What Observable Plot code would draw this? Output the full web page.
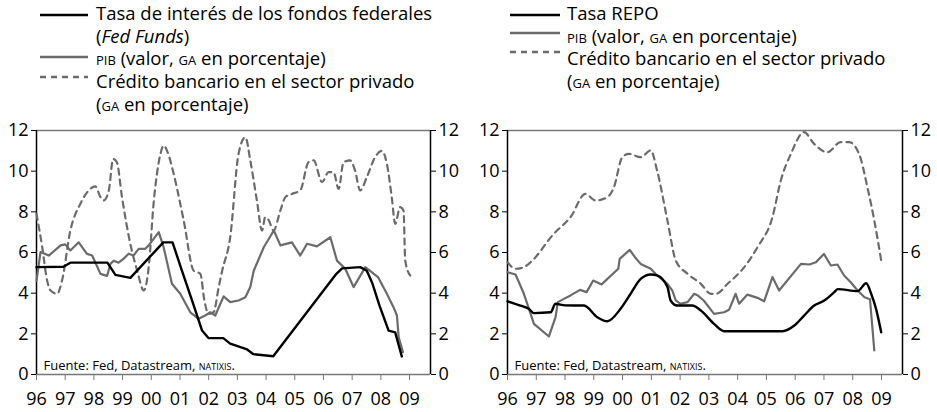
<!DOCTYPE html>
<html>
<head>
<meta charset="utf-8">
<script src="https://cdn.jsdelivr.net/npm/d3@7"></script>
<script src="https://cdn.jsdelivr.net/npm/@observablehq/plot@0.6"></script>
<style>
  body { margin: 0; background: #fff; }
  #root { position: relative; width: 937px; height: 412px; font-family: "Open Sans", sans-serif; overflow: hidden; }
  #legend { position: absolute; left: 0; top: 0; }
  #left { position: absolute; left: 0; top: 117px; }
  #right { position: absolute; left: 468px; top: 117px; }
</style>
</head>
<body>
<div id="root">
  <svg id="legend" width="937" height="117"></svg>
  <div id="left"></div>
  <div id="right"></div>
</div>
<script>
// ---------- data (decimal years, percent) ----------
const xTicks = [1996, 1997, 1998, 1999, 2000, 2001, 2002, 2003, 2004, 2005, 2006, 2007, 2008, 2009];
const yTicks = [0, 2, 4, 6, 8, 10, 12];

// Left panel: United States
const ffX = [1996.0, 1996.94, 1997.18, 1998.47, 1998.75, 1999.27, 2000.42, 2000.74, 2001.07, 2001.42, 2001.77, 2001.99, 2002.51, 2002.75, 2003.34, 2003.56, 2004.25, 2006.45, 2006.65, 2007.28, 2007.51, 2007.7, 2007.95, 2008.27, 2008.5, 2008.73];
const ffY = [5.28, 5.3, 5.5, 5.5, 4.9, 4.75, 6.5, 6.5, 5.1, 3.64, 2.16, 1.79, 1.79, 1.52, 1.23, 1.0, 0.9, 4.95, 5.22, 5.28, 5.1, 4.5, 3.4, 2.16, 2.07, 0.89];

const pibLX = [1996.0, 1996.14, 1996.43, 1996.84, 1997.0, 1997.18, 1997.47, 1997.76, 1997.94, 1998.23, 1998.46, 1998.58, 1998.7, 1998.86, 1999.04, 1999.21, 1999.38, 1999.56, 1999.79, 1999.91, 2000.26, 2000.43, 2000.72, 2001.01, 2001.36, 2001.65, 2001.88, 2002.06, 2002.23, 2002.52, 2002.75, 2003.04, 2003.28, 2003.45, 2003.57, 2003.92, 2004.27, 2004.5, 2004.9, 2005.19, 2005.43, 2005.77, 2006.24, 2006.47, 2006.76, 2007.05, 2007.46, 2007.9, 2008.21, 2008.44, 2008.56, 2008.62, 2008.77];
const pibLY = [4.62, 6.02, 5.85, 6.35, 6.4, 6.1, 6.5, 5.93, 5.85, 4.95, 4.85, 5.45, 5.6, 5.5, 5.7, 5.94, 5.85, 6.18, 6.18, 6.35, 7.0, 6.26, 4.46, 3.97, 3.06, 2.74, 2.9, 3.06, 2.9, 3.84, 3.56, 3.64, 3.8, 4.3, 5.1, 6.26, 7.08, 6.35, 6.5, 5.85, 6.43, 6.3, 6.75, 5.6, 5.2, 4.3, 5.28, 4.79, 3.97, 3.31, 2.9, 1.84, 1.1];

const crLX = [1996.0, 1996.2, 1996.37, 1996.49, 1996.72, 1996.89, 1997.18, 1997.53, 1997.82, 1998.05, 1998.23, 1998.34, 1998.52, 1998.67, 1998.8, 1998.98, 1999.27, 1999.51, 1999.74, 1999.91, 2000.08, 2000.32, 2000.43, 2000.55, 2000.78, 2001.13, 2001.48, 2001.71, 2001.85, 2002.0, 2002.17, 2002.35, 2002.47, 2002.75, 2003.04, 2003.28, 2003.45, 2003.68, 2003.86, 2003.97, 2004.1, 2004.26, 2004.5, 2004.67, 2004.9, 2005.19, 2005.48, 2005.66, 2005.95, 2006.18, 2006.35, 2006.53, 2006.7, 2006.93, 2007.1, 2007.28, 2007.51, 2007.8, 2008.03, 2008.21, 2008.38, 2008.5, 2008.67, 2008.79, 2008.85, 2009.02];
const crLY = [7.9, 6.26, 4.62, 4.13, 3.97, 4.62, 7.08, 8.4, 9.05, 9.25, 8.72, 8.56, 9.05, 10.6, 10.44, 8.72, 6.42, 5.1, 4.13, 5.28, 8.4, 10.85, 11.26, 11.0, 9.87, 7.57, 5.1, 4.95, 3.64, 2.98, 3.06, 4.3, 5.1, 6.75, 10.85, 11.67, 10.53, 8.56, 7.08, 7.74, 7.57, 7.08, 8.07, 8.72, 8.88, 9.05, 10.44, 10.53, 9.46, 9.95, 9.95, 9.13, 10.44, 10.53, 10.03, 9.05, 9.7, 10.69, 11.0, 10.36, 8.72, 7.41, 8.23, 8.07, 5.6, 4.87];

// Right panel: euro zone
const rpX = [1996.0, 1996.45, 1996.74, 1996.92, 1997.5, 1997.67, 1998.0, 1998.66, 1999.12, 1999.47, 1999.93, 2000.28, 2000.63, 2000.98, 2001.2, 2001.56, 2001.67, 2001.9, 2002.42, 2002.72, 2003.18, 2003.53, 2005.56, 2005.97, 2006.31, 2006.66, 2007.01, 2007.36, 2007.48, 2008.17, 2008.47, 2008.64, 2008.81, 2008.99];
const rpY = [3.6, 3.39, 3.23, 3.02, 3.06, 3.48, 3.4, 3.39, 2.82, 2.62, 3.23, 3.97, 4.7, 4.92, 4.87, 4.3, 3.64, 3.39, 3.39, 3.15, 2.49, 2.13, 2.13, 2.41, 2.9, 3.39, 3.64, 4.05, 4.2, 4.1, 4.49, 3.97, 3.23, 2.08];

const pibRX = [1996.0, 1996.28, 1996.57, 1996.92, 1997.44, 1997.67, 1997.75, 1997.96, 1998.19, 1998.52, 1998.75, 1998.98, 1999.27, 1999.85, 1999.9, 2000.25, 2000.43, 2000.63, 2000.98, 2001.2, 2001.56, 2001.73, 2001.85, 2002.0, 2002.26, 2002.49, 2002.6, 2002.82, 2003.18, 2003.53, 2003.7, 2003.93, 2004.05, 2004.34, 2004.69, 2004.92, 2005.21, 2005.44, 2006.2, 2006.49, 2006.72, 2007.0, 2007.24, 2007.47, 2007.7, 2007.93, 2008.17, 2008.41, 2008.6, 2008.75];
const pibRY = [5.03, 4.92, 3.97, 2.49, 1.87, 2.82, 3.56, 3.72, 3.89, 4.16, 4.05, 4.62, 4.43, 5.2, 5.69, 6.13, 5.77, 5.44, 5.2, 4.87, 4.46, 4.13, 3.64, 3.48, 3.56, 3.97, 3.9, 3.64, 2.98, 3.06, 3.18, 3.97, 3.48, 3.93, 3.77, 3.6, 4.79, 4.13, 5.44, 5.41, 5.52, 5.93, 5.36, 5.41, 4.87, 4.54, 4.13, 3.8, 3.7, 1.18];

const crRX = [1996.0, 1996.28, 1996.57, 1996.8, 1997.61, 1998.19, 1998.71, 1999.06, 1999.47, 1999.7, 1999.99, 2000.22, 2000.63, 2000.98, 2001.2, 2001.56, 2001.85, 2002.26, 2002.72, 2003.07, 2003.25, 2003.65, 2004.23, 2004.69, 2005.21, 2005.5, 2005.85, 2006.31, 2006.66, 2007.12, 2007.58, 2007.87, 2008.22, 2008.51, 2008.75, 2008.99];
const crRY = [5.52, 5.2, 5.28, 5.52, 6.92, 7.74, 8.88, 8.56, 8.72, 9.21, 10.69, 10.85, 10.69, 11.02, 10.03, 7.57, 5.6, 4.95, 4.46, 3.97, 3.97, 4.46, 5.28, 6.26, 7.74, 9.54, 10.85, 11.92, 11.34, 10.93, 11.43, 11.43, 10.85, 9.21, 7.57, 5.6];

const sourceText = "Fuente: Fed, Datastream, ";
const sourceSC = "natixis";

// ---------- helpers ----------
const zip = (xs, ys) => xs.map((x, i) => ({x, y: ys[i]}));
const GRAY = "#6b6b6b";
const XMAX = 2009.73;
const FONT = "'Open Sans', sans-serif";

function panel(width, mL, mR, rate, pib, credit, rateCurve) {
  const svg = Plot.plot({
    width, height: 295,
    marginLeft: mL, marginRight: mR, marginTop: 13, marginBottom: 38,
    style: {fontFamily: FONT, fontSize: "18px", color: "#000", background: "transparent", overflow: "visible"},
    x: {type: "linear", domain: [1996, XMAX]},
    y: {domain: [0, 12]},
    marks: [
      Plot.ruleY([12], {stroke: "#777", strokeWidth: 1.5}),
      Plot.ruleY([0], {stroke: "#777", strokeWidth: 1.5}),
      Plot.ruleX([1996, XMAX], {stroke: "#000", strokeWidth: 1.5}),
      Plot.axisY({anchor: "left", ticks: yTicks, tickSize: 5, tickPadding: 3, fontSize: 18, label: null, stroke: "#000"}),
      Plot.axisY({anchor: "right", ticks: yTicks, tickSize: 5, tickPadding: 3, fontSize: 18, label: null, stroke: "#000"}),
      Plot.axisX({ticks: xTicks, tickSize: 6, tickPadding: 12, fontSize: 18, label: null, stroke: "#777",
                  tickFormat: d => String(d % 100).padStart(2, "0")}),
      Plot.line(zip(credit[0], credit[1]), {x: "x", y: "y", stroke: GRAY, strokeWidth: 2.2, strokeDasharray: "6,5", curve: "monotone-x"}),
      Plot.line(zip(pib[0], pib[1]), {x: "x", y: "y", stroke: GRAY, strokeWidth: 2.2}),
      Plot.line(zip(rate[0], rate[1]), {x: "x", y: "y", stroke: "#000", strokeWidth: 2.4, curve: rateCurve}),
      Plot.text([sourceText], {frameAnchor: "bottom-left", textAnchor: "start", lineAnchor: "bottom", dx: 7, dy: -5, fontSize: 13})
    ]
  });
  // small caps tail of the source note
  svg.querySelectorAll("text").forEach(t => {
    if (t.textContent.startsWith("Fuente")) {
      const ns = "http://www.w3.org/2000/svg";
      const sp = document.createElementNS(ns, "tspan");
      sp.setAttribute("style", "font-variant: small-caps");
      sp.textContent = sourceSC;
      t.appendChild(sp);
      const dot = document.createElementNS(ns, "tspan");
      dot.textContent = ".";
      t.appendChild(dot);
    }
  });
  return svg;
}

document.getElementById("left").appendChild(
  panel(468, 36, 38, [ffX, ffY], [pibLX, pibLY], [crLX, crLY], "linear"));
document.getElementById("right").appendChild(
  panel(469, 39, 35, [rpX, rpY], [pibRX, pibRY], [crRX, crRY], "monotone-x"));

// ---------- legends ----------
const leg = d3.select("#legend").style("font-family", FONT).style("font-size", "18.5px");
function swatch(x1, x2, y, color, dash) {
  leg.append("line").attr("x1", x1).attr("x2", x2).attr("y1", y).attr("y2", y)
    .attr("stroke", color).attr("stroke-width", 2.6).attr("stroke-dasharray", dash || null);
}
function line(x, y, parts) {
  const t = leg.append("text").attr("x", x).attr("y", y).attr("fill", "#000");
  parts.forEach(p => {
    const s = t.append("tspan").text(p.t);
    if (p.sc) s.style("font-variant", "small-caps");
    if (p.it) s.style("font-style", "italic");
  });
}
// left
swatch(40, 88, 15, "#000");
line(96, 20, [{t: "Tasa de interés de los fondos federales"}]);
line(96, 42.7, [{t: "("}, {t: "Fed Funds", it: true}, {t: ")"}]);
swatch(40, 88, 57, GRAY);
line(96, 65.3, [{t: "pib", sc: true}, {t: " (valor, "}, {t: "ga", sc: true}, {t: " en porcentaje)"}]);
swatch(40, 88, 77, GRAY, "6,5");
line(96, 88, [{t: "Crédito bancario en el sector privado"}]);
line(96, 110.7, [{t: "("}, {t: "ga", sc: true}, {t: " en porcentaje)"}]);
// right
swatch(510, 560, 15, "#000");
line(567, 20, [{t: "Tasa REPO"}]);
swatch(510, 560, 33, GRAY);
line(567, 42.7, [{t: "pib", sc: true}, {t: " (valor, "}, {t: "ga", sc: true}, {t: " en porcentaje)"}]);
swatch(510, 560, 52, GRAY, "6,5");
line(567, 65.3, [{t: "Crédito bancario en el sector privado"}]);
line(567, 88, [{t: "("}, {t: "ga", sc: true}, {t: " en porcentaje)"}]);
</script>
</body>
</html>
